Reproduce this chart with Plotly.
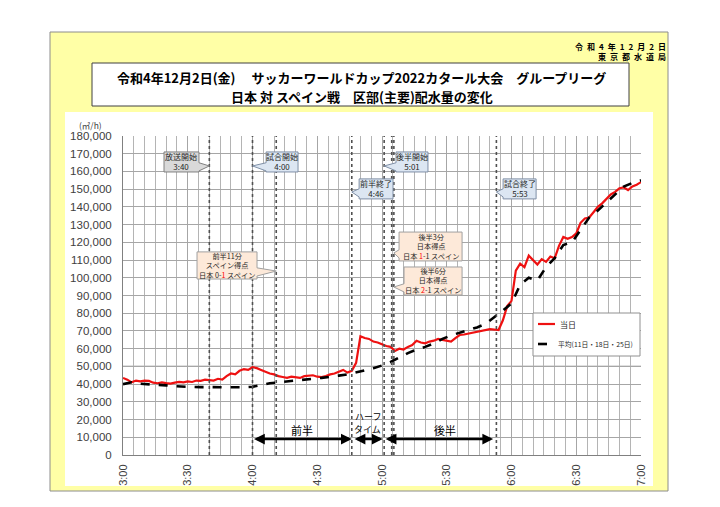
import plotly.graph_objects as go

# ---------------- data ----------------
# minutes after 3:00, flows in thousand m3/h
MIN_TODAY = list(range(0, 241, 2))
TODAY_K = [
    43.5, 42.5, 41.0, 42.0, 41.5, 42.0, 41.8, 40.8, 40.5, 41.0,
    40.6, 40.3, 40.8, 41.2, 41.0, 41.5, 41.2, 42.0, 41.8, 42.5,
    42.3, 42.0, 43.0, 42.5, 44.5, 46.0, 45.5, 47.5, 48.5, 48.0,
    49.5, 49.0, 48.0, 47.0, 46.0, 45.5, 44.5, 44.0, 43.5, 44.2,
    44.0, 43.5, 44.5, 44.6, 45.0, 44.2, 44.0, 44.5, 45.5, 46.0,
    47.0, 48.0, 46.5, 47.5, 52.0, 67.0, 66.0, 65.5, 64.0, 63.5,
    62.5, 61.5, 61.0, 58.7, 60.0, 59.5, 61.0, 62.0, 64.5, 63.5,
    63.0, 64.0, 64.5, 65.5, 65.0, 64.5, 64.0, 66.0, 67.7, 68.0,
    68.5, 69.0, 69.2, 70.0, 70.5, 71.0, 70.8, 70.5, 76.0, 84.0,
    87.0, 104.0, 108.0, 106.0, 112.5, 110.0, 107.5, 110.5, 109.0, 112.0,
    111.0, 118.0, 123.0, 122.0, 123.0, 125.0, 131.0, 133.5, 134.0, 137.0,
    140.0, 142.0, 144.5, 147.0, 148.5, 150.5, 151.0, 149.5, 151.5, 152.5,
    154.0,
]
MIN_AVG = list(range(0, 241, 4))
AVG_K = [
    40.0, 41.0, 40.2, 40.0, 39.6, 39.3, 38.8, 38.4, 38.4, 38.3,
    38.2, 38.2, 38.1, 38.2, 38.2, 38.5, 39.5, 40.5, 41.0, 41.6,
    42.0, 42.6, 43.0, 43.5, 44.0, 44.8, 45.5, 46.5, 47.8, 49.0,
    50.5, 52.5, 55.0, 57.5, 59.5, 61.0, 63.0, 65.5, 67.5, 69.0,
    70.5, 72.0, 74.0, 77.5, 81.5, 85.5, 96.0, 100.0, 98.5, 106.0,
    111.0, 118.5, 120.0, 127.0, 134.0, 138.0, 142.5, 147.5, 151.5, 153.5,
    155.0,
]
SERIES_NAMES = ["当日", "平均(11日・18日・25日)"]
TICK_MIN = [0, 30, 60, 90, 120, 150, 180, 210, 240]
TICK_LABELS = ["3:00", "3:30", "4:00", "4:30", "5:00", "5:30", "6:00", "6:30", "7:00"]
EVENT_MIN = [40, 60, 71, 106, 121, 124.5, 125.5, 173]

assert len(TODAY_K) == len(MIN_TODAY)
assert len(AVG_K) == len(MIN_AVG)

JP = "Noto Sans CJK JP"
AR = "Liberation Sans, Arial"
RED_LINE = dict(color="#ee1111", width=2.2)
BLK_LINE = dict(color="#000000", width=2.6, dash="dash")

fig = go.Figure()
fig.add_trace(go.Scatter(x=MIN_TODAY, y=[v * 1000 for v in TODAY_K], mode="lines",
                         name=SERIES_NAMES[0], line=RED_LINE, showlegend=False))
fig.add_trace(go.Scatter(x=MIN_AVG, y=[v * 1000 for v in AVG_K], mode="lines",
                         name=SERIES_NAMES[1], line=BLK_LINE, showlegend=False))

shapes = []
annotations = []

def px2paper(px, py):
    return (px - 123) / 518.0, (455 - py) / 319.0

def prect(l, t, r, b, fill, line=None, width=1, layer="above"):
    x0, y1 = px2paper(l, t)
    x1, y0 = px2paper(r, b)
    shapes.append(dict(type="rect", xref="paper", yref="paper", x0=x0, x1=x1, y0=y0, y1=y1,
                       fillcolor=fill, line=dict(color=line or "rgba(0,0,0,0)", width=width if line else 0),
                       layer=layer))

def pline(l, r, y, style):
    x0, yy = px2paper(l, y)
    x1, _ = px2paper(r, y)
    shapes.append(dict(type="line", xref="paper", yref="paper", x0=x0, x1=x1, y0=yy, y1=yy,
                       line=style, layer="above"))

def pann(text, px, py, size, anchor="center", bold=False, color="#000000"):
    x, y = px2paper(px, py)
    annotations.append(dict(x=x, y=y, xref="paper", yref="paper", xanchor=anchor, yanchor="middle",
                            text=("<b>%s</b>" % text) if bold else text, showarrow=False,
                            font=dict(family=JP, size=size, color=color)))

YEL = "#ffffa6"
# yellow frame as four strips around the white chart area
prect(50, 32, 668, 112, YEL)
prect(50, 486, 668, 491, YEL)
prect(50, 112, 65, 486, YEL)
prect(653, 112, 668, 486, YEL)
# outer border
prect(50, 32, 668, 491, "rgba(0,0,0,0)", line="#8c8c8c", width=1)
# title box
prect(92, 63, 629, 106, "#ffffff", line="#404040", width=1)

# 50,000 line
shapes.append(dict(type="line", xref="paper", yref="y", x0=0, x1=1, y0=50000, y1=50000,
                   line=dict(color="#000000", width=1), layer="below"))

# event lines
for m in EVENT_MIN:
    shapes.append(dict(type="line", xref="x", yref="paper", x0=m, x1=m, y0=0, y1=1,
                       line=dict(color="#505050", width=1.6, dash="dot"), layer="above"))

# callouts: text, box x0, x1 (min), top, bottom (k), tip (min, k), side, fill, border, font size
BLUE, BLUEB = "#dce6f2", "#7f8fa6"
PEACH, PEACHB = "#fde9d9", "#a0a0a0"
GRAY, GRAYB = "#d9d9d9", "#808080"
RED = "#ff0000"
callouts = [
    ("放送開始<br>3:40", 19.0, 35.2, 171.0, 159.7, 40, 163.1, "R", GRAY, GRAYB, 8),
    ("試合開始<br>4:00", 66.3, 81.1, 171.0, 159.7, 60, 163.1, "L", BLUE, BLUEB, 8),
    ("前半11分<br>スペイン得点<br>日本 0-<span style='color:%s'>1</span> スペイン" % RED,
     34.3, 62.1, 114.6, 99.3, 71, 103.8, "R", PEACH, PEACHB, 7.2),
    ("前半終了<br>4:46", 109.4, 125.1, 155.8, 144.5, 106, 148.4, "L", BLUE, BLUEB, 8),
    ("後半開始<br>5:01", 126.5, 141.3, 171.0, 159.7, 121, 163.1, "L", BLUE, BLUEB, 8),
    ("後半3分<br>日本得点<br>日本 <span style='color:%s'>1</span>-1 スペイン" % RED,
     127.9, 157.1, 125.8, 109.5, 125.5, 114.0, "L", PEACH, PEACHB, 7.2),
    ("後半6分<br>日本得点<br>日本 <span style='color:%s'>2</span>-1 スペイン" % RED,
     130.2, 157.1, 106.1, 90.3, 125.5, 94.8, "L", PEACH, PEACHB, 7.2),
    ("試合終了<br>5:53", 176.1, 191.4, 155.8, 144.5, 173, 148.4, "L", BLUE, BLUEB, 8),
]
for text, bx0, bx1, top, bot, tx, ty, side, fill, border, fs in callouts:
    hi = min(top - 0.5, ty + 1.8) * 1000
    lo = max(bot + 0.5, ty - 2.8) * 1000
    T, B = top * 1000, bot * 1000
    if side == "L":
        path = (f"M {bx0},{T} L {bx1},{T} L {bx1},{B} L {bx0},{B} L {bx0},{lo} "
                f"L {tx},{ty*1000} L {bx0},{hi} Z")
    else:
        path = (f"M {bx0},{T} L {bx1},{T} L {bx1},{hi} L {tx},{ty*1000} L {bx1},{lo} "
                f"L {bx1},{B} L {bx0},{B} Z")
    shapes.append(dict(type="path", xref="x", yref="y", path=path, fillcolor=fill,
                       line=dict(color=border, width=1), layer="above"))
    annotations.append(dict(x=(bx0 + bx1) / 2, y=(top + bot) / 2 * 1000, xref="x", yref="y",
                            text=text, showarrow=False,
                            font=dict(family=JP, size=fs, color="#262626")))

# period arrows
for a, b in [(60, 106), (106.6, 120.3), (121, 171.5)]:
    annotations.append(dict(x=b, y=9000, ax=a, ay=9000, xref="x", yref="y", axref="x", ayref="y",
                            text="", showarrow=True, arrowhead=2, arrowside="end+start",
                            arrowsize=0.9, arrowwidth=2.4, arrowcolor="#000000"))
for txt, xm, yk in [("前半", 83, 14.2), ("ハーフ", 113.5, 21.6), ("タイム", 113.5, 14.2), ("後半", 149, 14.2)]:
    annotations.append(dict(x=xm, y=yk * 1000, xref="x", yref="y", text=txt, showarrow=False,
                            font=dict(family=JP, size=11 if len(txt) == 2 else 9, color="#000000")))

# legend box (drawn to match the original's compact legend)
prect(533, 313, 640, 356, "#ffffff", line="#909090", width=1)
pline(538, 555, 324, dict(color=RED_LINE["color"], width=2.2))
pline(538, 555, 344, dict(color="#000000", width=2.6, dash="dash"))
pann(SERIES_NAMES[0], 558, 324, 8, anchor="left", color="#262626")
pann(SERIES_NAMES[1], 556, 344, 6.8, anchor="left", color="#262626")

# titles and header texts
SP = "\u2002"
pann("令和4年12月2日(金)　 サッカーワールドカップ2022カタール大会　グループリーグ", 361, 77, 13, bold=True)
pann("日本 対 スペイン戦　区部(主要)配水量の変化", 362, 96, 13, bold=True)
pann(SP.join("令和4年12月2日"), 668, 46, 8, anchor="right", bold=True)
pann(SP.join("東京都水道局"), 668, 57, 8, anchor="right", bold=True)
pann("(㎥/h)", 90, 125, 8.5, color="#404040")

fig.update_layout(
    width=720, height=507, autosize=False,
    margin=dict(l=123, r=79, t=136, b=52),
    paper_bgcolor="#ffffff", plot_bgcolor="#ffffff",
    shapes=shapes, annotations=annotations,
    showlegend=False,
    xaxis=dict(range=[0, 240], tickmode="array", tickvals=TICK_MIN, ticktext=TICK_LABELS,
               tickangle=-90, showgrid=True, gridcolor="#a6a6a6", gridwidth=1,
               minor=dict(tick0=0, dtick=5, showgrid=True, gridcolor="#b4b4b4", gridwidth=1),
               zeroline=False, showline=True, linecolor="#808080", ticks="",
               tickfont=dict(family=AR, size=11, color="#404040"), ticklabelstandoff=4),
    yaxis=dict(range=[0, 180000], dtick=10000, tickformat=",", showgrid=True,
               gridcolor="#a6a6a6", gridwidth=1, zeroline=False, showline=True,
               linecolor="#808080", ticks="",
               tickfont=dict(family=AR, size=11.5, color="#404040"), ticklabelstandoff=8),
)

fig.write_html("out.html")
